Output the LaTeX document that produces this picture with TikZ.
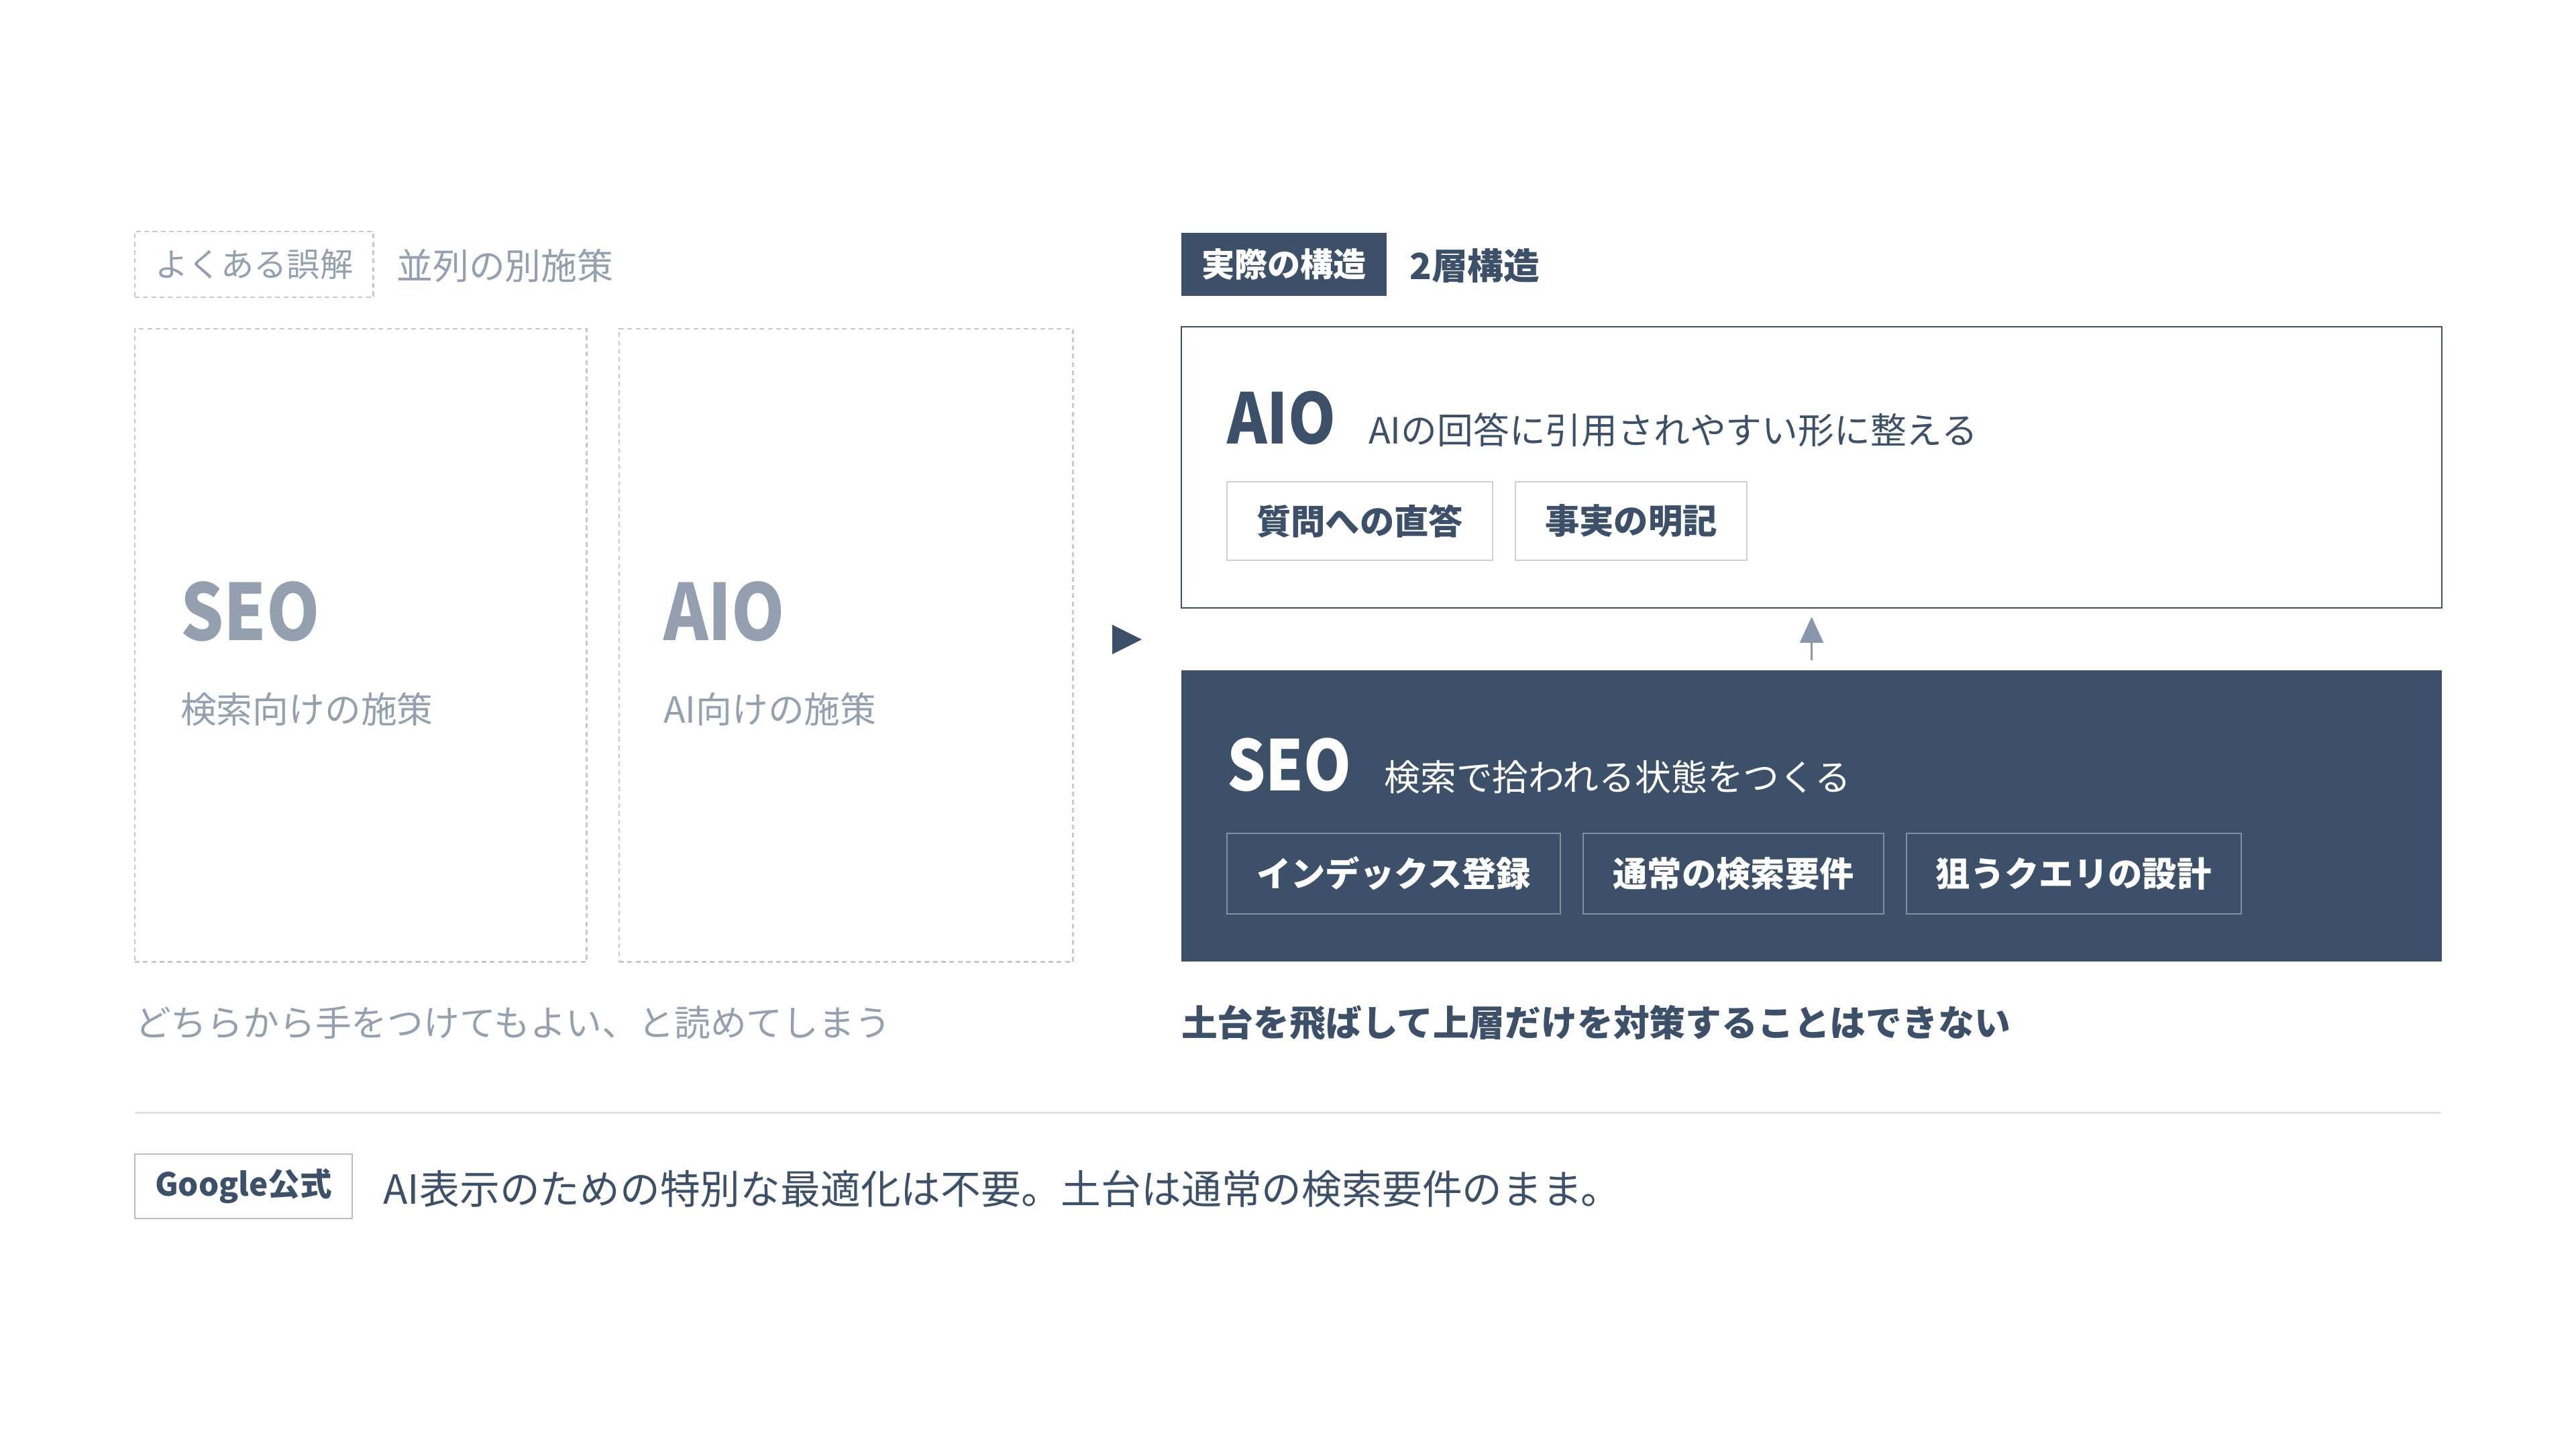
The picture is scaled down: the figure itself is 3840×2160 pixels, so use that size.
\documentclass[tikz,border=0pt]{standalone}
\usepackage{fontspec}
\setmainfont{Noto Sans CJK JP}
\newfontfamily\titlefont[FakeStretch=0.87]{Noto Sans CJK JP}
\usetikzlibrary{positioning,arrows.meta}
\definecolor{navy}{RGB}{61,80,106}
\definecolor{mist}{RGB}{148,160,176}
\definecolor{dashgray}{RGB}{196,201,209}
\definecolor{chipline}{RGB}{203,209,217}
\definecolor{chipdark}{RGB}{126,143,166}
\definecolor{rulegray}{RGB}{222,226,231}
\definecolor{arrowgray}{RGB}{138,151,170}
\definecolor{tagline}{RGB}{180,188,198}

\begin{document}
\begin{tikzpicture}[x=0.01cm,y=-0.01cm,
  every node/.style={inner sep=0pt, outer sep=0pt},
  dashbox/.style={draw=dashgray, line width=0.7pt, dash pattern=on 2pt off 1.5pt},
  tagbox/.style={dashbox, minimum height=0.98cm, inner xsep=0.3cm, text=mist, font=\fontsize{14pt}{16pt}\selectfont},
  headbox/.style={fill=navy, minimum height=0.93cm, inner xsep=0.3cm, text=white, font=\fontsize{14pt}{16pt}\selectfont\bfseries},
  desc/.style={font=\fontsize{15.3pt}{18pt}\selectfont},
  bigname/.style={font=\titlefont\fontsize{33pt}{36pt}\selectfont\bfseries},
  layername/.style={font=\titlefont\fontsize{29.5pt}{32pt}\selectfont\bfseries},
  chip/.style={draw=chipline, line width=0.6pt, fill=white, text=navy, minimum height=1.17cm, inner xsep=0.44cm, font=\fontsize{14.6pt}{16pt}\selectfont\bfseries},
  darkchip/.style={chip, draw=chipdark, fill=navy, text=white, minimum height=1.2cm}
]
\useasboundingbox (0,0) rectangle (3840,2160);

% left side: the common misreading
\node[tagbox, anchor=west] (mythTag) at (201,394) {よくある誤解};
\node[desc, text=mist, right=0.35cm of mythTag, yshift=-0.02cm] (mythHead) {並列の別施策};
\node[dashbox, minimum width=6.73cm, minimum height=9.43cm, anchor=north west] (seoOld) at (201,490) {};
\node[dashbox, minimum width=6.76cm, minimum height=9.43cm, anchor=north west] (aioOld) at (923,490) {};
\node[bigname, text=mist, anchor=west] (seoOldName) at (269,911) {SEO};
\node[desc, text=mist, anchor=west] (seoOldDesc) at (269,1057) {検索向けの施策};
\node[bigname, text=mist, anchor=west] (aioOldName) at (989,911) {AIO};
\node[desc, text=mist, anchor=west] (aioOldDesc) at (989,1057) {AI向けの施策};
\node[desc, text=mist, anchor=west] (mythNote) at (201,1524) {どちらから手をつけてもよい、と読めてしまう};

\fill[navy] (1658,931) -- (1702,953) -- (1658,975) -- cycle;

% right side: two layers
\node[headbox, anchor=west] (realTag) at (1761,394) {実際の構造};
\node[desc, text=navy, font=\fontsize{15.3pt}{18pt}\selectfont\bfseries, right=0.34cm of realTag, yshift=-0.02cm] (realHead) {2層構造};

\node[draw=navy, line width=0.7pt, fill=white, minimum width=18.78cm, minimum height=4.19cm, anchor=north west] (aioBox) at (1761,487) {};
\node[layername, text=navy, anchor=west] (aioName) at (1829,623) {AIO};
\node[desc, text=navy, anchor=base west] (aioDesc) at ([xshift=0.49cm]aioName.base east) {AIの回答に引用されやすい形に整える};
\node[chip, anchor=north west] (chipAnswer) at (1829,718) {質問への直答};
\node[chip, right=0.34cm of chipAnswer] (chipFacts) {事実の明記};

\node[fill=navy, minimum width=18.78cm, minimum height=4.34cm, anchor=north west] (seoBox) at (1761,999) {};
\node[layername, text=white, anchor=west] (seoName) at (1829,1140) {SEO};
\node[desc, text=white, anchor=base west] (seoDesc) at ([xshift=0.49cm]seoName.base east) {検索で拾われる状態をつくる};
\node[darkchip, anchor=north west] (chipIndex) at (1829,1242) {インデックス登録};
\node[darkchip, right=0.34cm of chipIndex] (chipReq) {通常の検索要件};
\node[darkchip, right=0.34cm of chipReq] (chipQuery) {狙うクエリの設計};

\draw[arrowgray, line width=0.8pt, -{Triangle[length=11pt,width=10pt]}, shorten <=0.15cm, shorten >=0.13cm] (seoBox.north) -- (aioBox.south);

\node[desc, text=navy, font=\fontsize{15.3pt}{18pt}\selectfont\bfseries, anchor=west] (realNote) at (1761,1524) {土台を飛ばして上層だけを対策することはできない};

% footer
\draw[rulegray, line width=0.85pt] (201,1658) -- (3639,1658);
\node[draw=tagline, line width=0.6pt, minimum height=0.96cm, inner xsep=0.3cm, text=navy, font=\fontsize{13.5pt}{16pt}\selectfont\bfseries, anchor=west] (googleTag) at (201,1768) {Google公式};
\node[text=navy, font=\fontsize{17pt}{20pt}\selectfont, right=0.47cm of googleTag, yshift=-0.04cm] (googleNote) {AI表示のための特別な最適化は不要。土台は通常の検索要件のまま。};
\end{tikzpicture}
\end{document}
